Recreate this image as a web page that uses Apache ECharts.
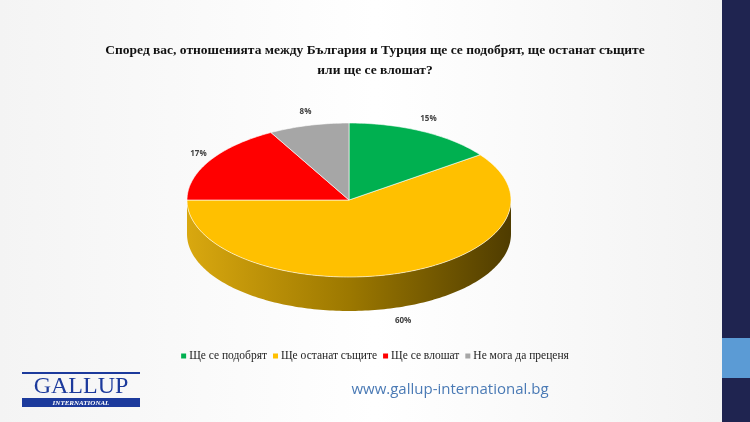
<!DOCTYPE html><html><head><meta charset="utf-8"><script src="https://cdn.jsdelivr.net/npm/echarts@6/dist/echarts.min.js"></script>
<style>html,body{margin:0;padding:0;}#c{width:750px;height:422px;background:linear-gradient(90deg,#f4f4f4,#ffffff 50%,#f2f2f2);}</style></head><body><div id="c"></div><script>
const categories=['Ще се подобрят','Ще останат същите','Ще се влошат','Не мога да преценя'];
const values=[15,60,17,8];
const labels=['15%','60%','17%','8%'];
const colors=['#00b050','#ffc000','#ff0000','#a6a6a6'];
const chart=echarts.init(document.getElementById('c'));
const CX=349,CY=200,RX=162,RY=77,D=34;
const total=values.reduce((a,b)=>a+b,0);
let acc=0;const starts=values.map(v=>{const s=acc;acc+=v;return s;});
function pt(t,dy){return [CX+RX*Math.sin(t),CY-RY*Math.cos(t)+(dy||0)];}
function arc(a,b,dy){const p=[];const n=Math.max(4,Math.ceil((b-a)/0.02));for(let i=0;i<=n;i++)p.push(pt(a+(b-a)*i/n,dy));return p;}
function renderItem(params,api){
  const s=api.value(0),v=api.value(1),idx=api.value(2);
  const a=s/total*2*Math.PI,b=(s+v)/total*2*Math.PI;
  const ch=[];
  const wa=Math.max(a,Math.PI/2),wb=Math.min(b,1.5*Math.PI);
  if(wb>wa){
    const top=arc(wa,wb,0),bot=arc(wa,wb,D).reverse();
    ch.push({type:'polygon',shape:{points:top.concat(bot)},style:{fill:{type:'linear',x:0,y:0,x2:1,y2:0,colorStops:[{offset:0,color:'#d9a80f'},{offset:0.5,color:'#9c7800'},{offset:1,color:'#4f3c00'}]}}});
  }
  ch.push({type:'polygon',shape:{points:[[CX,CY]].concat(arc(a,b,0))},style:{fill:colors[idx],stroke:'#ffffff',lineWidth:0.6}});
  const m=(a+b)/2;const lp=[CX+RX*1.08*Math.sin(m),CY-RY*1.18*Math.cos(m)+(Math.cos(m)<0?D:0)];
  ch.push({type:'text',style:{text:labels[idx],x:lp[0],y:lp[1],align:'center',verticalAlign:'middle',font:'bold 8px "Open Sans"',fill:'#404040'}});
  return {type:'group',children:ch};
}
chart.setOption({
  title:{text:'Според вас, отношенията между България и Турция ще се подобрят, ще останат същите\nили ще се влошат?',left:370,textAlign:'center',top:36,textStyle:{fontFamily:'Liberation Serif',fontWeight:'bold',fontSize:13.5,color:'#111',lineHeight:20}},
  legend:{data:categories,top:345,left:'center',itemWidth:5,itemHeight:5,itemGap:6,icon:'rect',textStyle:{fontFamily:'Liberation Serif',fontSize:11.5,color:'#222',padding:[0,0,0,-2]}},
  xAxis:{show:false},yAxis:{show:false},grid:{left:0,right:0,top:0,bottom:0},
  series:categories.map((c,i)=>({type:'custom',name:c,coordinateSystem:'none',itemStyle:{color:colors[i]},renderItem,data:[[starts[i],values[i],i]],z:i===1?1:2})),
  graphic:[
    {type:'rect',shape:{x:722,y:0,width:28,height:422},style:{fill:'#1f2450'}},
    {type:'rect',shape:{x:722,y:338,width:28,height:40},style:{fill:'#5b9bd5'}},
    {type:'rect',shape:{x:22,y:372,width:118,height:2},style:{fill:'#1c3a9c'}},
    {type:'text',style:{text:'GALLUP',x:81,y:387,align:'center',verticalAlign:'middle',font:'24px "Liberation Serif"',fill:'#1c3a9c'}},
    {type:'rect',shape:{x:22,y:398,width:118,height:9},style:{fill:'#1c3a9c'}},
    {type:'text',style:{text:'INTERNATIONAL',x:81,y:403,align:'center',verticalAlign:'middle',font:'italic bold 7px "Liberation Serif"',fill:'#ffffff'}},
    {type:'text',style:{text:'www.gallup-international.bg',x:450,y:390,align:'center',verticalAlign:'middle',font:'15px "Open Sans"',fill:'#4a7ab5'}}
  ]
});
</script></body></html>
